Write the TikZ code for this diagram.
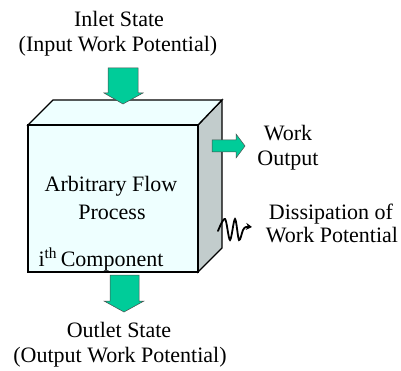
\documentclass[tikz,border=0pt]{standalone}
\usepackage{fontspec}
\setmainfont{Liberation Serif}
\usetikzlibrary{arrows.meta}
\definecolor{flowgreen}{HTML}{00CC99}
\definecolor{faceface}{HTML}{EEFFFF}
\definecolor{faceside}{HTML}{C2CCCC}
\tikzset{
  txt/.style={anchor=base, inner sep=0pt, font=\fontsize{22}{26}\selectfont},
  face/.style={draw=black, line width=1.3pt, line join=miter},
  blockarrow/.style={fill=flowgreen, draw=black!70, line width=0.5pt, line join=miter},
}
\begin{document}
\begin{tikzpicture}[x=1pt, y=-1pt]
\useasboundingbox (0,0) rectangle (401,371);
% the box: side, top and front faces
\coordinate (fl) at (28,125);
\coordinate (fr) at (198,125);
\coordinate (br) at (198,272);
\coordinate (bl) at (28,272);
\draw[face, fill=faceside] (fr) -- (222,100) -- (222,248) -- (br) -- cycle;
\draw[face, fill=faceface] (fl) -- (53,100) -- (222,100) -- (fr) -- cycle;
\draw[face, fill=faceface] (fl) rectangle (br);
% inlet and outlet block arrows
\draw[blockarrow] (108,68) -- (138,68) -- (138,93) -- (143,93) -- (123,104) -- (104,93) -- (108,93) -- cycle;
\draw[blockarrow] (110,275) -- (139,275) -- (139,301) -- (144,301) -- (124,312) -- (104,301) -- (110,301) -- cycle;
% work output arrow
\draw[blockarrow] (212,140) -- (236,140) -- (236,134) -- (245,146) -- (236,158) -- (236,152) -- (212,152) -- cycle;
% dissipation squiggle
\draw[line width=1.8pt, line cap=round, -{Stealth[length=6pt,width=7pt]}]
  plot[smooth, tension=0.55] coordinates {(218,231) (225,219) (230,240) (235,219) (239,240) (243,230) (246,227) (252,227)};
% labels
\node[txt] (inlet1) at (119,27) {Inlet State};
\node[txt] (inlet2) at (118,52) {(Input Work Potential)};
\node[txt] (work1) at (288,141) {Work};
\node[txt] (work2) at (288,166) {Output};
\node[txt] (proc1) at (111,192) {Arbitrary Flow};
\node[txt] (proc2) at (112,219) {Process};
\node[txt] (diss1) at (331,219) {Dissipation of};
\node[txt] (diss2) at (332,243) {Work Potential};
\node[txt] (comp) at (101,266) {i\textsuperscript{th}\,Component};
\node[txt] (outlet1) at (119,337) {Outlet State};
\node[txt] (outlet2) at (120,362) {(Output Work Potential)};
\end{tikzpicture}
\end{document}
